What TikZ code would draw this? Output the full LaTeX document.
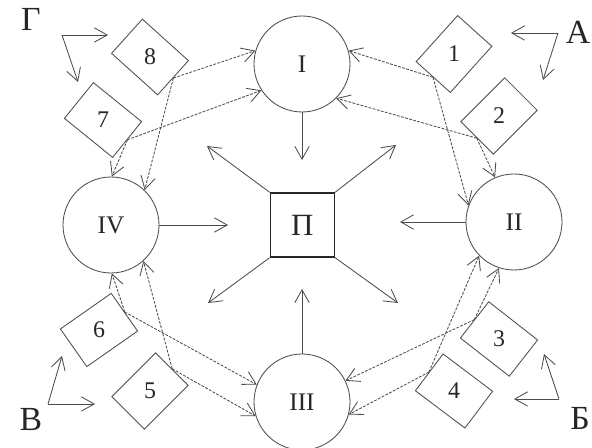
\documentclass[tikz,border=0pt]{standalone}
\usepackage{fontspec}
\setmainfont{Liberation Serif}
\usetikzlibrary{arrows.meta}

\begin{document}
\begin{tikzpicture}[
    color=black!70, line width=0.6pt,
    >={Straight Barb[length=3.2mm,width=3.6mm]},
    unit/.style={draw, circle, minimum size=2.4cm, inner sep=0pt,
      text=black!85, font=\fontsize{18}{21}\selectfont},
    core/.style={draw=black!85, line width=1pt, minimum size=1.6cm,
      inner sep=0pt, text=black!85, font=\fontsize{22}{26}\selectfont},
    cell/.style={draw, minimum width=1.55cm, minimum height=1.15cm, inner sep=0pt},
    tag/.style={text=black!85, font=\fontsize{17}{20}\selectfont},
    letter/.style={text=black!85, font=\fontsize{24}{28}\selectfont},
    flow/.style={->, dash pattern=on 2pt off 1pt}
  ]
  \useasboundingbox (0,0) rectangle (14.8,11.2);

  % four stages round the centre
  \node[unit] (I)   at (7.55,9.6)   {I};
  \node[unit] (II)  at (12.85,5.65) {II};
  \node[unit] (III) at (7.55,1.15)  {III};
  \node[unit] (IV)  at (2.775,5.575) {IV};
  \node[core] (P)   at (7.56,5.575) {П};

  % the eight links, tilted
  \foreach \n/\x/\y/\a in {1/11.35/9.85/48, 2/12.475/8.3/45,
      3/12.475/2.725/-38, 4/11.35/1.425/-37, 5/3.75/1.425/45,
      6/2.475/2.95/35, 7/2.575/8.2/-39, 8/3.75/9.775/-42}{
    \node[cell, rotate=\a] (d\n) at (\x,\y) {};
    \node[tag] (t\n) at (d\n.center) {\n};
  }

  % links feed the neighbouring stages
  \draw[flow] (d1.west) -- (I.16);
  \draw[flow] (d1.west) -- (II.160);
  \draw[flow] (d2.west) -- (I.-45);
  \draw[flow] (d2.west) -- (II.113);
  \draw[flow] (d3.west) -- (II.252);
  \draw[flow] (d3.west) -- (III.26);
  \draw[flow] (d4.west) -- (II.224);
  \draw[flow] (d4.west) -- (III.-15);
  \draw[flow] (d5.east) -- (IV.-48);
  \draw[flow] (d5.east) -- (III.197);
  \draw[flow] (d6.east) -- (IV.271);
  \draw[flow] (d6.east) -- (III.159);
  \draw[flow] (d7.east) -- (I.213);
  \draw[flow] (d7.east) -- (IV.89);
  \draw[flow] (d8.east) -- (I.164);
  \draw[flow] (d8.east) -- (IV.46);

  % stages towards the centre, centre outwards
  \coordinate (pI)   at (7.55,7.2);
  \coordinate (pII)  at (10.0,5.65);
  \coordinate (pIII) at (7.55,3.975);
  \coordinate (pIV)  at (5.7,5.575);
  \draw[->] (I.south) -- (pI);
  \draw[->] (II.west) -- (pII);
  \draw[->] (III.north) -- (pIII);
  \draw[->] (IV.east) -- (pIV);
  \coordinate (qNW) at (5.175,7.55);
  \coordinate (qNE) at (9.9,7.575);
  \coordinate (qSW) at (5.2,3.625);
  \coordinate (qSE) at (9.95,3.625);
  \draw[->] (P.north west) -- (qNW);
  \draw[->] (P.north east) -- (qNE);
  \draw[->] (P.south west) -- (qSW);
  \draw[->] (P.south east) -- (qSE);

  % outside inputs
  \node[letter] (G) at (0.775,10.725) {Г};
  \coordinate (gC) at (1.55,10.325);
  \coordinate (gR) at (2.7,10.325);
  \coordinate (gD) at (1.95,9.15);
  \draw[->] (gC) -- (gR);
  \draw[->] (gC) -- (gD);

  \node[letter] (A) at (14.45,10.4) {А};
  \coordinate (aC) at (13.95,10.375);
  \coordinate (aL) at (12.775,10.375);
  \coordinate (aD) at (13.575,9.2);
  \draw[->] (aC) -- (aL);
  \draw[->] (aC) -- (aD);

  \node[letter] (V) at (0.775,0.7) {В};
  \coordinate (vC) at (1.2,1.1);
  \coordinate (vR) at (2.375,1.1);
  \coordinate (vU) at (1.55,2.3);
  \draw[->] (vC) -- (vR);
  \draw[->] (vC) -- (vU);

  \node[letter] (B) at (14.5,0.75) {Б};
  \coordinate (bC) at (13.975,1.225);
  \coordinate (bL) at (12.85,1.225);
  \coordinate (bU) at (13.6,2.35);
  \draw[->] (bC) -- (bL);
  \draw[->] (bC) -- (bU);
\end{tikzpicture}
\end{document}
